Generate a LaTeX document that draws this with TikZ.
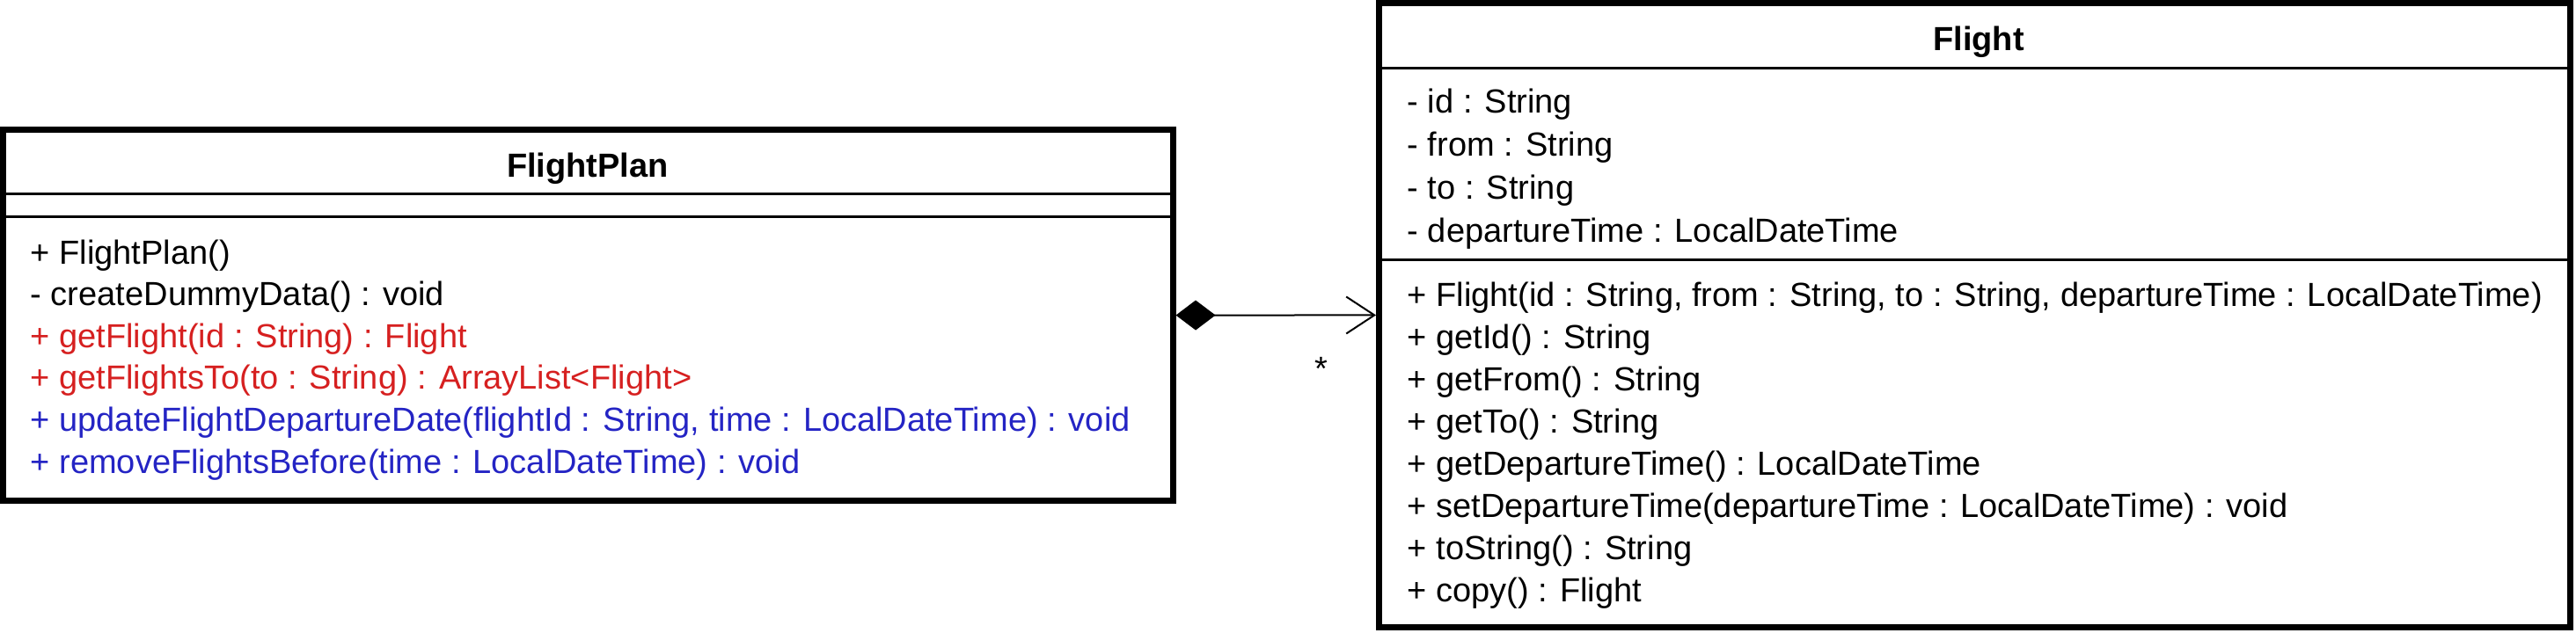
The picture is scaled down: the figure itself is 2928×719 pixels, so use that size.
\documentclass[tikz,border=0pt]{standalone}
\usepackage{fontspec}
\setmainfont{Liberation Sans}
\usetikzlibrary{arrows.meta}

\definecolor{opred}{RGB}{214,32,32}
\definecolor{opblue}{RGB}{36,36,196}

\tikzset{
	classbox/.style={draw=black, line width=1.75pt, rectangle, inner sep=0pt},
	sepline/.style={black, line width=0.75pt},
	member/.style={anchor=base west, inner sep=0pt, font=\fontsize{9.5pt}{11pt}\selectfont},
	classname/.style={anchor=base, inner sep=0pt, font=\fontsize{9.5pt}{11pt}\selectfont\bfseries},
	composition/.style={line width=0.5pt, {Diamond[length=11.25pt,width=8.5pt]}-{Straight Barb[length=8pt,width=10.5pt]}}
}

\begin{document}
\begin{tikzpicture}[x=0.25pt,y=-0.25pt]
		\useasboundingbox (0,0) rectangle (2928,719);
		%\fill[lightgray] (0,0) rectangle (2928,719);
		
		% FlightPlan
		\node (fp) [classbox, minimum width=332.4pt, minimum height=105.6pt] at (668.25,358.75) {};
		\draw[sepline] (3.5,220) -- (1333,220);
		\draw[sepline] (3.5,246) -- (1333,246);
		\node (fpname) [classname] at (668,201) {FlightPlan};
		\node (fpm1) [member] at (34,300) {+ FlightPlan()};
		\node (fpm2) [member] at (34,347.6) {- createDummyData() : void};
		\node (fpm3) [member, opred] at (34,395.2) {+ getFlight(id : String) : Flight};
		\node (fpm4) [member, opred] at (34,442.8) {+ getFlightsTo(to : String) : ArrayList<Flight>};
		\node (fpm5) [member, opblue] at (34,490.4) {+ updateFlightDepartureDate(flightId : String, time : LocalDateTime) : void};
		\node (fpm6) [member, opblue] at (34,538) {+ removeFlightsBefore(time : LocalDateTime) : void};
		
		% Flight
		\node (fl) [classbox, minimum width=338.6pt, minimum height=177.6pt] at (2244.75,358.25) {};
		\draw[sepline] (1567.5,77) -- (2922,77);
		\draw[sepline] (1567.5,295) -- (2922,295);
		\node (flname) [classname] at (2249,57) {Flight};
		\node (fla1) [member] at (1599,128) {- id : String};
		\node (fla2) [member] at (1599,177) {- from : String};
		\node (fla3) [member] at (1599,226) {- to : String};
		\node (fla4) [member] at (1599,275) {- departureTime : LocalDateTime};
		\node (flm1) [member] at (1599,348) {+ Flight(id : String, from : String, to : String, departureTime : LocalDateTime)};
		\node (flm2) [member] at (1599,396.1) {+ getId() : String};
		\node (flm3) [member] at (1599,444.2) {+ getFrom() : String};
		\node (flm4) [member] at (1599,492.3) {+ getTo() : String};
		\node (flm5) [member] at (1599,540.4) {+ getDepartureTime() : LocalDateTime};
		\node (flm6) [member] at (1599,588.5) {+ setDepartureTime(departureTime : LocalDateTime) : void};
		\node (flm7) [member] at (1599,636.6) {+ toString() : String};
		\node (flm8) [member] at (1599,684.7) {+ copy() : Flight};
		
		% composition FlightPlan -> Flight
		\draw[composition] (fp) -- (fl) node (mult) [pos=0.727, anchor=base, yshift=-18.5pt, inner sep=0pt, font=\fontsize{9.5pt}{11pt}\selectfont] {*};
	\end{tikzpicture}
\end{document}
